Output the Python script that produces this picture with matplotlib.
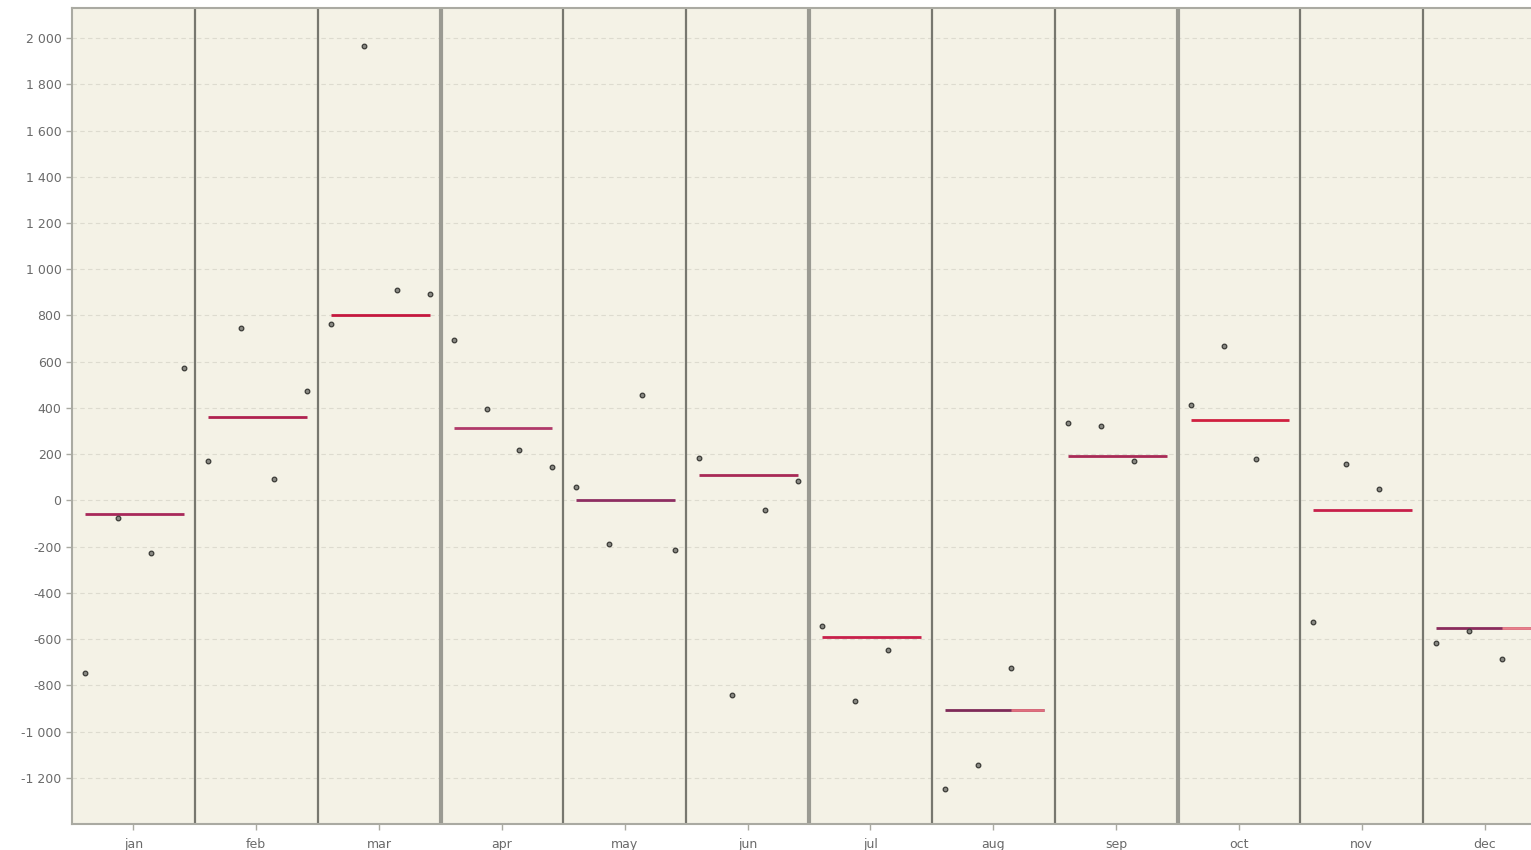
import matplotlib
matplotlib.use("Agg")
import matplotlib.pyplot as plt
from matplotlib.ticker import FixedLocator, FuncFormatter

months = ["jan", "feb", "mar", "apr", "may", "jun", "jul", "aug", "sep", "oct", "nov", "dec"]
points = [
    [-745, -78, -229, 571],
    [169, 745, 91, 472],
    [762, 1965, 909, 892],
    [693, 394, 216, 143],
    [56, -190, 455, -216],
    [182, -844, -43, 82],
    [-545, -866, -649],
    [-1247, -1143, -727],
    [333, 320, 169],
    [411, 667, 177],
    [-524, 156, 48],
    [-615, -567, -688],
]
mean_values = [-58, 359, 801, 314, 1, 111, -593, -906, 193, 347, -40, -553]
yticks = list(range(-1200, 2001, 200))

slot = [0.107, 0.375, 0.643, 0.911]
main_colors = ["#a8285a", "#b02250", "#c4183e", "#b03a6a", "#8e2e62", "#a82a56",
               "#c8204a", "#7e2a58", "#a82a56", "#d0203f", "#c8204a", "#8a2c5c"]
tail_colors = [None, None, None, None, None, None, None, "#e0707e", None, None, None, "#e8808a"]

W, H = 1531, 850
fig = plt.figure(figsize=(W / 100, H / 100), dpi=100)
fig.patch.set_facecolor("white")
left, right, top, bottom = 72, 1546, 8, 824
ax = fig.add_axes([left / W, 1 - bottom / H, (right - left) / W, (bottom - top) / H])
ax.set_facecolor("#f4f2e6")
ax.set_xlim(0, 12)
ax.set_ylim(-1400, 2130)

for y in yticks:
    ax.axhline(y, color="#dddbcf", lw=0.8, ls=(0, (4, 3)), zorder=1)

for i in range(1, 12):
    thick = i in (3, 6, 9)
    ax.axvline(i, color="#9a9a92" if thick else "#77776f", lw=3 if thick else 1.6, zorder=2)

for i, (vals, m) in enumerate(zip(points, mean_values)):
    ax.plot([i + slot[0], i + slot[3]], [m, m], color=main_colors[i], lw=2.0,
            solid_capstyle="butt", zorder=3)
    if tail_colors[i]:
        ax.plot([i + slot[2], i + slot[3]], [m, m], color=tail_colors[i], lw=2.0,
                solid_capstyle="butt", zorder=3)
    xs = [i + slot[k] for k in range(len(vals))]
    ax.scatter(xs, vals, s=11, facecolor="#8a8a84", edgecolor="#3a3a36", linewidths=0.9, zorder=4)

for s in ["left", "bottom", "top"]:
    ax.spines[s].set_color("#aaaaa2")
    ax.spines[s].set_linewidth(1.5)
ax.spines["right"].set_visible(False)

ax.xaxis.set_major_locator(FixedLocator([i + 0.5 for i in range(12)]))
ax.set_xticklabels(months)
ax.yaxis.set_major_locator(FixedLocator(yticks))
ax.yaxis.set_major_formatter(FuncFormatter(lambda v, p: f"{int(v):,}".replace(",", " ")))
ax.tick_params(axis="both", colors="#aaaaa2", labelcolor="#6a6a6a", labelsize=9, length=4, width=1)
ax.tick_params(axis="x", pad=6)

fig.savefig("out.png", dpi=100, facecolor="white")
